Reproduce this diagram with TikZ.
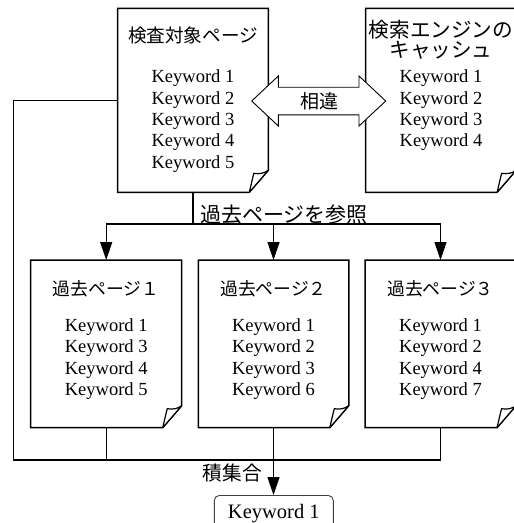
\documentclass[tikz,border=0pt]{standalone}
\usepackage{fontspec}
\setmainfont{Liberation Serif}
\newfontfamily\jpfont{Noto Sans CJK JP}
\usetikzlibrary{arrows.meta,calc}
\tikzset{
  docline/.style={line width=1.5pt, line join=miter},
  conn/.style={line width=1.3pt},
  arr/.style={conn, -{Triangle[length=18pt,width=12pt]}},
  docnode/.style={inner sep=0pt, outer sep=0pt},
  kw/.style={font=\fontsize{18.5}{21}\selectfont, anchor=base, inner sep=0pt},
  jp/.style={font=\jpfont\fontsize{#1}{#1}\selectfont, inner sep=0pt},
  resbox/.style={draw=black!75, line width=0.9pt, rounded corners=5pt, anchor=north,
    minimum width=119pt, inner ysep=9pt, font=\fontsize{20.5}{23}\selectfont},
}
\newcommand\drawdoc[1]{%
  \draw[docline, fill=white] (#1.north west) -- (#1.north east) -- ([yshift=22pt]#1.south east)
    -- ([xshift=-19pt]#1.south east) -- (#1.south west) -- cycle;
  \draw[line width=1.2pt, line join=round, fill=white] ([xshift=-19pt]#1.south east)
    -- ([xshift=-14.5pt,yshift=19pt]#1.south east)
    .. controls ([xshift=-9pt,yshift=18pt]#1.south east) and ([xshift=-4pt,yshift=19pt]#1.south east)
    .. ([yshift=22pt]#1.south east) -- cycle;
}
\begin{document}
\begin{tikzpicture}[x=1pt,y=-1pt]
\useasboundingbox (0,0) rectangle (514,523);
% document nodes
\node[docnode, minimum width=150.6pt, minimum height=184pt] (d0) at (193,100.3) {};
\node[docnode, minimum width=150.4pt, minimum height=184pt] (dc) at (440.9,100.3) {};
\node[docnode, minimum width=151pt, minimum height=167.7pt] (d1) at (106.2,343.85) {};
\node[docnode, minimum width=150.5pt, minimum height=167.7pt] (d2) at (273.5,343.85) {};
\node[docnode, minimum width=151pt, minimum height=167.7pt] (d3) at (440.5,343.85) {};
\drawdoc{d0}
\drawdoc{dc}
\drawdoc{d1}
\drawdoc{d2}
\drawdoc{d3}
% result box
\node[resbox] (res) at (273.8,495) {Keyword 1};
% connectors
\coordinate (lc) at (13.3,460);
\coordinate (j) at (193,224);
\draw[conn] (d0.west) -| (lc) -- (d3.south |- lc) -- (d3.south);
\draw[conn] (d1.south) -- (d1.south |- lc);
\draw[arr] (d2.south) -- (d2.south |- res.north);
\draw[conn] (d0.south) -- (j);
\draw[conn] (d1.north |- j) -- (d3.north |- j);
\draw[arr] (d1.north |- j) -- (d1.north);
\draw[arr] (d2.north |- j) -- (d2.north);
\draw[arr] (d3.north |- j) -- (d3.north);
% double arrow
\node[jp=19] (diff) at (319.2,101) {相違};
\draw[line width=0.9pt, fill=white, line join=miter]
  ($(diff)+(-67.5,0)$) -- ($(diff)+(-40.9,-25)$) -- ($(diff)+(-40.9,-13.8)$)
  -- ($(diff)+(39.8,-13.8)$) -- ($(diff)+(39.8,-25)$) -- ($(diff)+(66.5,0)$)
  -- ($(diff)+(39.8,25)$) -- ($(diff)+(39.8,13.8)$) -- ($(diff)+(-40.9,13.8)$)
  -- ($(diff)+(-40.9,25)$) -- cycle;
\node[jp=19] at (diff) {相違};
% titles
\node[jp=18.6] (t0) at (193,35) {検査対象ページ};
\node[jp=20.6] (tc1) at (441,29.5) {検索エンジンの};
\node[jp=20.6] (tc2) at (441,50.5) {キャッシュ};
\node[jp=17.8] (t1) at (106.2,288.5) {過去ページ１};
\node[jp=17.8] (t2) at (273.5,288.5) {過去ページ２};
\node[jp=17.8] (t3) at (440.5,288.5) {過去ページ３};
\node[jp=21] (ref) at (283.8,215) {過去ページを参照};
\node[jp=19.7] (inter) at (232.2,473) {積集合};
% keywords
\foreach \w [count=\i] in {1,2,3,4,5}
  \node[kw] (k0-\i) at (193,{82.6+21.4*(\i-1)}) {Keyword \w};
\foreach \w [count=\i] in {1,2,3,4}
  \node[kw] (kc-\i) at (441,{82.6+21.4*(\i-1)}) {Keyword \w};
\foreach \w [count=\i] in {1,3,4,5}
  \node[kw] (k1-\i) at (106.2,{331+21.6*(\i-1)}) {Keyword \w};
\foreach \w [count=\i] in {1,2,3,6}
  \node[kw] (k2-\i) at (273.5,{331+21.6*(\i-1)}) {Keyword \w};
\foreach \w [count=\i] in {1,2,4,7}
  \node[kw] (k3-\i) at (440.5,{331+21.6*(\i-1)}) {Keyword \w};
\end{tikzpicture}
\end{document}
